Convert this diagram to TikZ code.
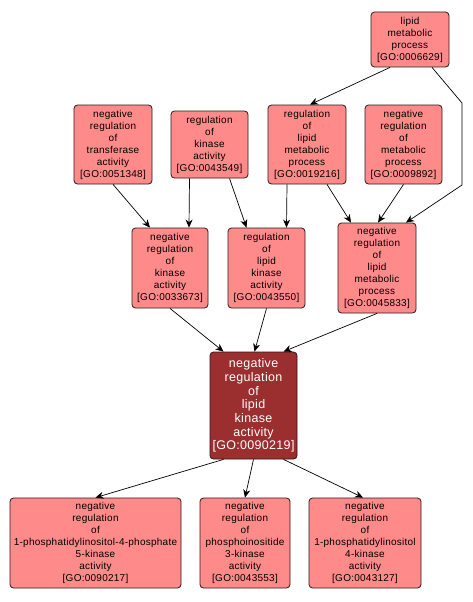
\documentclass[tikz,border=0pt]{standalone}
\usepackage{fontspec}
\setmainfont[LetterSpace=2.5]{Liberation Sans}
\usetikzlibrary{arrows.meta}
\definecolor{termfill}{RGB}{255,138,138}
\definecolor{focusfill}{RGB}{155,46,46}
\definecolor{termline}{RGB}{45,25,25}
\tikzset{
  goterm/.style={draw=termline,fill=termfill,line width=0.8pt,rounded corners=3.5pt,
    inner sep=0pt,align=center,font=\fontsize{10}{12}\selectfont},
  gofocus/.style={goterm,fill=focusfill,text=white,font=\fontsize{12.5}{13.7}\selectfont},
  goedge/.style={-{Stealth[length=8pt,width=7pt,inset=2.5pt]},line width=0.7pt,black}
}
% \gobox[style]{name}{x}{y}{width}{height}{text}
\newcommand{\gobox}[7][goterm]{%
  \node[#1,minimum width=#5,minimum height=#6] (#2) at (#3,#4) {#7};%
}

\begin{document}
\begin{tikzpicture}[x=1pt,y=-1pt]
  \fill[white] (0,0) rectangle (472,602);
  \useasboundingbox (0,0) rectangle (472,602);
  % top rows
  \gobox{lipidmet}{410}{39.5}{78pt}{55pt}{lipid\\metabolic\\process\\{[}GO:0006629]}
  \gobox{negtransf}{113}{144.5}{78pt}{79pt}{negative\\regulation\\of\\transferase\\activity\\{[}GO:0051348]}
  \gobox{regkin}{209.5}{144.5}{77pt}{67pt}{regulation\\of\\kinase\\activity\\{[}GO:0043549]}
  \gobox{reglipidmet}{307}{144.5}{78pt}{79pt}{regulation\\of\\lipid\\metabolic\\process\\{[}GO:0019216]}
  \gobox{negmet}{403.5}{144.5}{77pt}{79pt}{negative\\regulation\\of\\metabolic\\process\\{[}GO:0009892]}
  % middle row
  \gobox{negkin}{170}{268}{76pt}{80pt}{negative\\regulation\\of\\kinase\\activity\\{[}GO:0033673]}
  \gobox{reglipidkin}{266.5}{268}{77pt}{80pt}{regulation\\of\\lipid\\kinase\\activity\\{[}GO:0043550]}
  \gobox{neglipidmet}{377}{268}{78pt}{90pt}{negative\\regulation\\of\\lipid\\metabolic\\process\\{[}GO:0045833]}
  % focus term
  \gobox[gofocus]{neglipidkin}{253.5}{405.5}{87pt}{107pt}{negative\\regulation\\of\\lipid\\kinase\\activity\\{[}GO:0090219]}
  % children
  \gobox{negpipk}{95.5}{543}{171pt}{90pt}{negative\\regulation\\of\\1-phosphatidylinositol-4-phosphate\\5-kinase\\activity\\{[}GO:0090217]}
  \gobox{negpi3k}{245}{543}{90pt}{90pt}{negative\\regulation\\of\\phosphoinositide\\3-kinase\\activity\\{[}GO:0043553]}
  \gobox{negpi4k}{365}{543}{112pt}{90pt}{negative\\regulation\\of\\1-phosphatidylinositol\\4-kinase\\activity\\{[}GO:0043127]}

  \coordinate (bendtop) at (462,103);
  \coordinate (bendlow) at (462,185);
  \draw[goedge] ([xshift=-20]lipidmet.south) -- ([xshift=3]reglipidmet.north);
  \draw[goedge] ([xshift=22]lipidmet.south) -- (bendtop) -- (bendlow) -- ([xshift=29]neglipidmet.north);
  \draw[goedge] (negtransf.south) -- ([xshift=-20]negkin.north);
  \draw[goedge] ([xshift=-20]regkin.south) -- ([xshift=19]negkin.north);
  \draw[goedge] ([xshift=20]regkin.south) -- ([xshift=-20]reglipidkin.north);
  \draw[goedge] ([xshift=-20]reglipidmet.south) -- ([xshift=20]reglipidkin.north);
  \draw[goedge] ([xshift=20]reglipidmet.south) -- ([xshift=-26]neglipidmet.north);
  \draw[goedge] (negmet.south) -- ([xshift=1]neglipidmet.north);
  \draw[goedge] (negkin.south) -- ([xshift=-30]neglipidkin.north);
  \draw[goedge] (reglipidkin.south) -- ([xshift=1]neglipidkin.north);
  \draw[goedge] (neglipidmet.south) -- ([xshift=30]neglipidkin.north);
  \draw[goedge] ([xshift=-30]neglipidkin.south) -- (negpipk.north);
  \draw[goedge] (neglipidkin.south) -- (negpi3k.north);
  \draw[goedge] ([xshift=30]neglipidkin.south) -- ([xshift=-2]negpi4k.north);
\end{tikzpicture}
\end{document}
